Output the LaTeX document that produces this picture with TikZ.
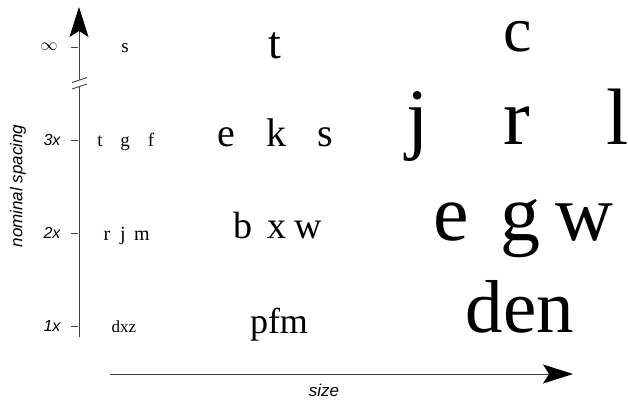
\documentclass[tikz,border=0pt]{standalone}
\usepackage{fontspec}
\setmainfont{Liberation Serif}
\setsansfont{Liberation Sans}
\usetikzlibrary{arrows.meta}
\tikzset{
  fs/.style={font=\fontsize{#1}{#1}\selectfont, inner sep=0pt, anchor=base},
  axlbl/.style={font=\sffamily\itshape\fontsize{16}{16}\selectfont, inner sep=0pt},
  axline/.style={line width=1pt, draw=black!75},
  tick/.style={line width=0.8pt, draw=black!75},
  bigarrow/.style={-{Stealth[length=30pt,width=19pt,inset=6pt,color=black,fill=black]}}
}
\begin{document}
\begin{tikzpicture}[x=1pt,y=-1pt]
\useasboundingbox (0,0) rectangle (628,403);
% axes
\coordinate (vb) at (79,337);
\coordinate (vt) at (79,7);
\coordinate (hl) at (110,374);
\coordinate (hr) at (573,374);
\draw[axline,bigarrow] (vb) -- (vt);
\draw[axline,bigarrow] (hl) -- (hr);
% break
\fill[white] (76,81) -- (82,79) -- (82,85.5) -- (76,87.5) -- cycle;
\coordinate (b1a) at (72,82.5); \coordinate (b1b) at (87,77.5);
\coordinate (b2a) at (72,89); \coordinate (b2b) at (87,84);
\draw[tick] (b1a) -- (b1b);
\draw[tick] (b2a) -- (b2b);
% ticks
\foreach \y/\n in {47/inf,140/three,233/two,326/one}{
  \coordinate (t\n a) at (71,\y); \coordinate (t\n b) at (78,\y);
  \draw[tick] (t\n a) -- (t\n b);
}
\node[axlbl] (linf) at (49,47) {\fontsize{17}{17}\selectfont$\infty$};
\node[axlbl] (l3) at (52,140) {3x};
\node[axlbl] (l2) at (52,233) {2x};
\node[axlbl] (l1) at (52,326) {1x};
\node[axlbl, rotate=90, font=\sffamily\itshape\fontsize{17}{17}\selectfont] (ylab) at (18,186) {nominal spacing};
\node[axlbl, font=\sffamily\itshape\fontsize{17}{17}\selectfont] (xlab) at (324,390) {size};
% column 1
\node[fs=19] (a1) at (125,53) {s};
\node[fs=19] (a2) at (100,147) {t};
\node[fs=19] (a3) at (125,147) {g};
\node[fs=19] (a4) at (151,147) {f};
\node[fs=20] (a5) at (107,240) {r};
\node[fs=20] (a6) at (123,240) {j};
\node[fs=20] (a7) at (142,240) {m};
\node[fs=17] (a8) at (124,332) {dxz};
% column 2
\node[fs=46] (b1) at (275,59) {t};
\node[fs=40] (b2) at (226,147) {e};
\node[fs=40] (b3) at (276,147) {k};
\node[fs=40] (b4) at (325,147) {s};
\node[fs=38] (b5) at (243,238) {b};
\node[fs=38] (b6) at (277,238) {x};
\node[fs=38] (b7) at (308,238) {w};
\node[fs=36] (b8) at (279,333) {pfm};
% column 3
\node[fs=64, text height=0.5em] (c1) at (518,52) {c};
\node[fs=80] (c2) at (418,145) {j};
\node[fs=80] (c3) at (517,145) {r};
\node[fs=80] (c4) at (618,145) {l};
\node[fs=80] (c5) at (451,240) {e};
\node[fs=80] (c6) at (520,240) {g};
\node[fs=80] (c7) at (584,240) {w};
\node[fs=75] (c8) at (520,332) {den};
\end{tikzpicture}
\end{document}
